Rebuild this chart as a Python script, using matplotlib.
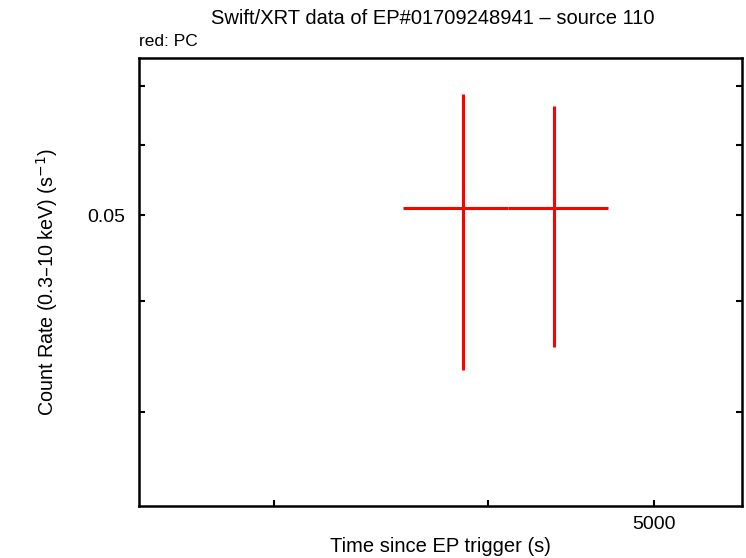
import matplotlib.pyplot as plt
from matplotlib.ticker import FixedLocator, NullFormatter, FixedFormatter

# Swift/XRT PC mode light curve, source 110
time = [3870, 4372]
time_err_lo = [300, 261]
time_err_hi = [241, 331]
rate = [0.0509, 0.0509]
rate_err_lo = [0.0175, 0.0154]
rate_err_hi = [0.0176, 0.0155]

x_major = [5000]
x_minor = [3000, 4000]
y_major = [0.05]
y_minor = [0.03, 0.04, 0.06, 0.07]

plt.rcParams['font.family'] = ['Liberation Sans', 'DejaVu Sans']

W, H = 746, 558
fig = plt.figure(figsize=(W / 100, H / 100), dpi=100)
ax = fig.add_axes([139 / W, 52 / H, 603 / W, 448 / H])

ax.errorbar(time, rate, xerr=[time_err_lo, time_err_hi], yerr=[rate_err_lo, rate_err_hi],
            fmt='none', ecolor='#ff0000', elinewidth=2.2, capsize=0)

ax.set_xscale('log')
ax.set_yscale('log')
ax.set_xlim(2502, 5628)
ax.set_ylim(0.02347, 0.0752)

ax.xaxis.set_major_locator(FixedLocator(x_major))
ax.xaxis.set_major_formatter(FixedFormatter([str(v) for v in x_major]))
ax.xaxis.set_minor_locator(FixedLocator(x_minor))
ax.xaxis.set_minor_formatter(NullFormatter())
ax.yaxis.set_major_locator(FixedLocator(y_major))
ax.yaxis.set_major_formatter(FixedFormatter([str(v) for v in y_major]))
ax.yaxis.set_minor_locator(FixedLocator(y_minor))
ax.yaxis.set_minor_formatter(NullFormatter())

ax.tick_params(which='both', direction='in', length=4, width=1.5, labelsize=14,
               left=True, right=True, bottom=True, top=False)
ax.tick_params(axis='y', pad=10)
ax.tick_params(axis='x', pad=7.5)
for s in ax.spines.values():
    s.set_linewidth(1.8)

fig.text(440 / W, 1 - 547 / H, 'Time since EP trigger (s)', fontsize=14.5, ha='center', va='center')
fig.text(47 / W, 1 - 282 / H, 'Count Rate (0.3\u201310 keV) (s$^{-1}$)', fontsize=14.2,
         rotation=90, ha='center', va='center')
fig.text(433 / W, 1 - 19 / H, 'Swift/XRT data of EP#01709248941 \u2013 source 110', fontsize=14.5,
         ha='center', va='center')
fig.text(139 / W, 1 - 42 / H, 'red: PC', fontsize=12.5, ha='left', va='center')

fig.savefig('out.png', dpi=100)
